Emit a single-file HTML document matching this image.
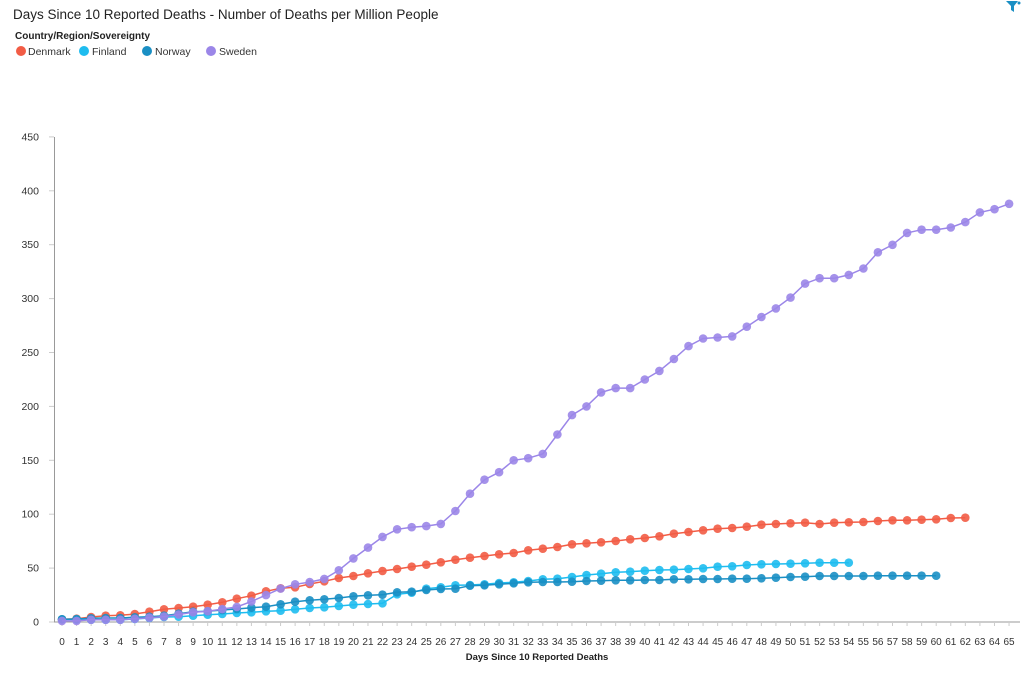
<!DOCTYPE html><html><head><meta charset="utf-8"><style>
body{margin:0;background:#fff;font-family:"Liberation Sans",sans-serif}
</style></head><body>
<svg id="c" width="1024" height="670" xmlns="http://www.w3.org/2000/svg" font-family="Liberation Sans, sans-serif">
<text x="13" y="19" font-size="13.5" fill="#222">Days Since 10 Reported Deaths - Number of Deaths per Million People</text>
<text x="15" y="39" font-size="10" font-weight="bold" fill="#222">Country/Region/Sovereignty</text>
<circle cx="21" cy="51" r="5" fill="#f25c45"/><text x="28" y="55" font-size="10.5" fill="#333">Denmark</text>
<circle cx="84" cy="51" r="5" fill="#1ebcef"/><text x="92" y="55" font-size="10.5" fill="#333">Finland</text>
<circle cx="147" cy="51" r="5" fill="#1a8fc4"/><text x="155" y="55" font-size="10.5" fill="#333">Norway</text>
<circle cx="211" cy="51" r="5" fill="#9b86e8"/><text x="219" y="55" font-size="10.5" fill="#333">Sweden</text>
<path d="M1006 1h12l-4 5v6l-3-2v-4z" fill="#1a8fc4"/><circle cx="1019" cy="3" r="1.5" fill="#1a8fc4"/>
<g id="ax"></g>
<text x="537" y="660" font-size="9.5" font-weight="bold" fill="#222" text-anchor="middle">Days Since 10 Reported Deaths</text>
</svg>
<script>
var s=document.getElementById('ax'),h='';
function X(d){return 62+d*14.57}
h+='<line x1="54.5" y1="137" x2="54.5" y2="622" stroke="#999"/><line x1="54" y1="622" x2="1020" y2="622" stroke="#999"/>';
for(var i=0;i<=9;i++){var y=622-i*53.9;h+='<line x1="49" x2="54" y1="'+y+'" y2="'+y+'" stroke="#ccc"/><text x="39" y="'+(y+3.5)+'" font-size="10.5" fill="#333" text-anchor="end">'+(i*50)+'</text>';}
for(var d=0;d<=65;d++){h+='<line x1="'+X(d)+'" x2="'+X(d)+'" y1="622" y2="626" stroke="#ccc"/><text x="'+X(d)+'" y="645" font-size="10" fill="#333" text-anchor="middle">'+d+'</text>';}
function P(a){return a.map(function(p){return 470+p/3})}
var dk=P([448,446,441,437,436,432,425,418,414,410,404,397,386,377,364,355,352,342,334,324,318,310,303,297,290,284,277,269,263,258,253,249,241,236,231,223,220,217,213,208,204,199,191,186,181,176,174,170,164,162,160,158,162,158,157,156,153,151,151,149,148,144,143]);
var fi=P([448,449,449,449,449,447,444,441,440,437,434,432,429,427,424,422,418,414,412,408,404,402,400,373,368,356,352,346,345,343,339,337,333,328,326,321,315,311,307,305,302,300,299,297,295,290,289,285,283,282,281,280,278,278,278]);
var no=P([448,447,445,444,444,442,440,437,431,425,424,420,417,413,410,403,395,391,388,384,379,376,374,367,365,360,357,356,347,346,343,340,337,336,336,335,333,332,331,331,330,330,328,328,327,327,326,326,325,323,321,320,318,318,318,318,317,317,317,317,317]);
var sw=[1,1,2,2,2,3,4,5,7,9,10,12,14,19,25,31,35,37,40,48,59,69,79,86,88,89,91,103,119,132,139,150,152,156,174,192,200,213,217,217,225,233,244,256,263,264,265,274,283,291,301,314,319,319,322,328,343,350,361,364,364,366,371,380,383,388].map(function(v){return 622-v*1.0778});
function ser(a,c){var pts=a.map(function(y,i){return X(i).toFixed(1)+','+y.toFixed(1)}).join(' ');
h+='<polyline points="'+pts+'" fill="none" stroke="'+c+'" stroke-width="1.5"/>';
a.forEach(function(y,i){h+='<circle cx="'+X(i).toFixed(1)+'" cy="'+y.toFixed(1)+'" r="4.3" fill="'+c+'" fill-opacity="0.9"/>'});}
ser(dk,'#f25c45');ser(fi,'#1ebcef');ser(no,'#1a8fc4');ser(sw,'#9b86e8');
s.innerHTML=h;
</script>
</body></html>
